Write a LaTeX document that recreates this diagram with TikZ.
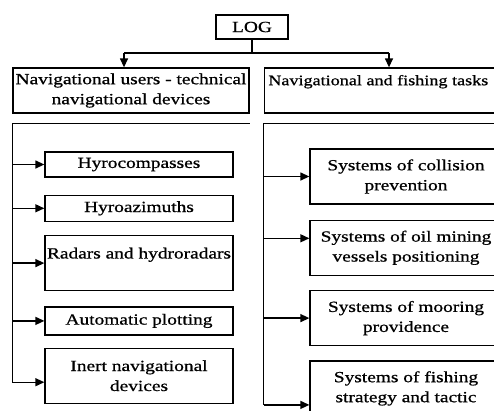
\documentclass[tikz,border=0pt]{standalone}
\usepackage{fontspec}
\setmainfont[FakeStretch=1.25, FakeBold=0.8]{Liberation Serif}
\usetikzlibrary{positioning}
\usetikzlibrary{arrows.meta}

\begin{document}
\begin{tikzpicture}
[
x=1pt, y=-1pt,
line width=1.3pt,
block/.style={rectangle, draw, align=center, inner sep=0pt, font=\fontsize{15.5}{20}\selectfont},
head/.style={block, minimum height=45pt},
item/.style={block, minimum width=188pt},
task/.style={block, minimum width=192pt, minimum height=55pt},
arr/.style={-{Triangle[length=9pt,width=8pt]}},
]
\useasboundingbox (0,0) rectangle (494,410);
\clip (0,0) rectangle (494,410);
\node (log)   [block, minimum width=72pt, minimum height=24pt] at (252,27) {LOG};
\node (lhead) [head, minimum width=236pt] at (131,90.5)    {Navigational users - technical\\navigational devices};
\node (rhead) [head, minimum width=245pt, right = 14pt of lhead] {};
\node (rtext) [anchor=north west, inner sep=0pt, font=\fontsize{14.5}{20}\selectfont]
               at ([xshift=4pt, yshift=-7pt]rhead.north west) {Navigational and fishing tasks};
% left column
\node (comp)  [item, minimum height=25pt] at (139,164.5)   {Hyrocompasses};
\node (azim)  [item, minimum height=26pt, below = 17pt of comp]  {Hyroazimuths};
\node (radar) [item, minimum height=55pt, below = 13pt of azim]  {Radars and hydroradars\\~};
\node (plot)  [item, minimum height=28pt, below = 15pt of radar] {Automatic plotting};
\node (inert) [item, minimum height=55pt, below = 12pt of plot]  {Inert navigational\\devices};
% right column
\node (coll)  [task] at (406,176.5)          {Systems of collision\\prevention};
\node (oil)   [task, below = 15pt of coll]   {Systems of oil mining\\vessels positioning};
\node (moor)  [task, below = 14pt of oil]    {Systems of mooring\\providence};
\node (fish)  [task, below = 14pt of moor]   {Systems of fishing\\strategy and tactic};
\coordinate (jl) at (124,53);
\coordinate (jr) at (389,53);
\draw        (log.south) -- (log.south |- jl);
\draw        (jl) -- (jr);
\draw [arr]  (jl) -- (jl |- lhead.north);
\draw [arr]  (jr) -- (jr |- rhead.north);
\coordinate (lc)   at ([yshift=-10pt]lhead.south west);
\coordinate (lend) at ([yshift=-6.5pt]inert.west -| lc);
\draw        ([yshift=-10pt]lhead.south east) -- (lc) -- (lend);
\foreach \n in {comp, azim, radar, plot}
  \draw [arr] (lc |- \n.west) -- (\n.west);
\draw [arr]  (lend) -- (lend -| inert.west);
\coordinate (rc)   at ([yshift=-10pt]rhead.south west);
\coordinate (rend) at ([yshift=-16.5pt]fish.west -| rc);
\draw        ([yshift=-10pt]rhead.south east) -- (rc) -- (rend);
\draw [arr]  (rc |- coll.west) -- (coll.west);
\draw [arr]  ([yshift=9.5pt]oil.west -| rc) -- ([yshift=9.5pt]oil.west);
\draw [arr]  (rc |- moor.west) -- (moor.west);
\draw [arr]  (rend) -- (rend -| fish.west);
\end{tikzpicture}
\end{document}
